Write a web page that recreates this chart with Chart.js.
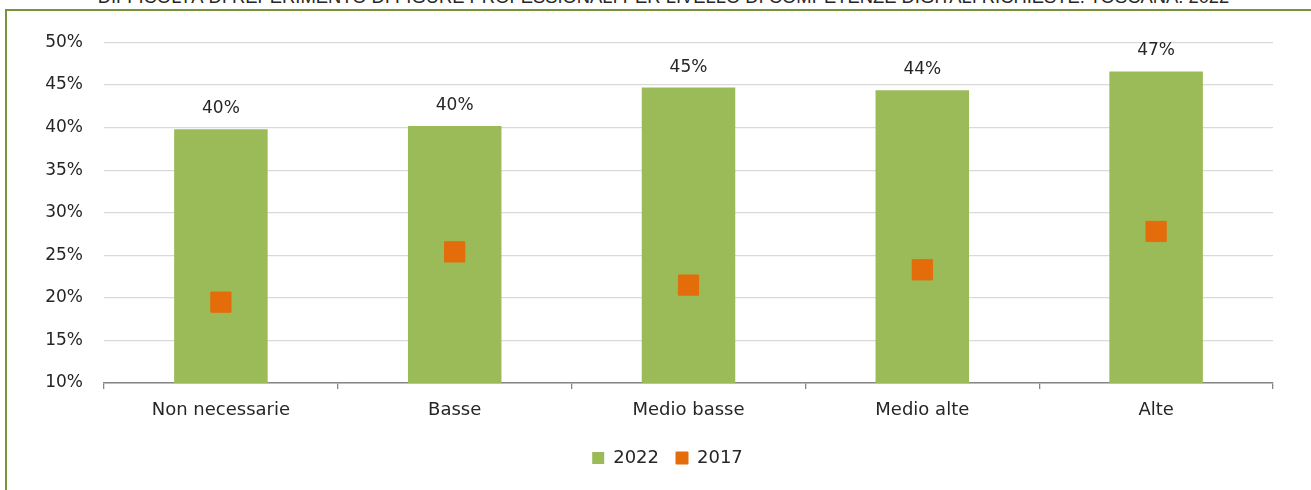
<!DOCTYPE html>
<html>
<head>
<meta charset="utf-8">
<script src="https://cdn.jsdelivr.net/npm/chart.js@4/dist/chart.umd.min.js"></script>
<style>
  html, body { margin: 0; padding: 0; background: #fff; overflow: hidden; }
  #wrap { position: relative; width: 1311px; height: 490px; overflow: hidden; }
  #frame {
    position: absolute; left: 5px; top: 9px; width: 1400px; height: 600px;
    border-left: 2.5px solid #77933C; border-top: 2.5px solid #77933C;
  }
  #title {
    position: absolute; left: 0; width: 1311px; text-align: center;
    font-family: "Liberation Sans", Arial, sans-serif; color: #262626;
    line-height: 1; white-space: nowrap;
  }
  canvas { position: absolute; left: 0; top: 0; }
</style>
</head>
<body>
<div id="wrap">
  <div id="frame"></div>
  <div id="title">DIFFICOLTÀ DI REPERIMENTO DI FIGURE PROFESSIONALI PER LIVELLO DI COMPETENZE DIGITALI RICHIESTE. TOSCANA. 2022</div>
  <canvas id="chart" width="1311" height="490"></canvas>
</div>
<script>
// Dati
const categories = ['Non necessarie', 'Basse', 'Medio basse', 'Medio alte', 'Alte'];
const values2022 = [39.8, 40.2, 44.7, 44.4, 46.6];
const values2017 = [19.5, 25.4, 21.5, 23.3, 27.8];
const yTicks = [10, 15, 20, 25, 30, 35, 40, 45, 50];

// Titolo tagliato in alto, come nell'originale
const title = document.getElementById('title');
const ctxMeasure = document.createElement('canvas').getContext('2d');
ctxMeasure.font = '20px "Liberation Sans"';
const fs = 20 * 1133 / ctxMeasure.measureText(title.textContent).width;
title.style.fontSize = fs + 'px';
title.style.left = (663.5 - 655.5) + 'px';
title.style.top = (3.5 - 0.8465 * fs) + 'px';

const valueLabels = {
    id: 'valueLabels',
    afterDatasetsDraw(chart) {
        const ctx = chart.ctx;
        const meta = chart.getDatasetMeta(0);
        ctx.save();
        ctx.font = '17px "DejaVu Sans"';
        ctx.fillStyle = '#262626';
        ctx.textAlign = 'center';
        ctx.textBaseline = 'alphabetic';
        meta.data.forEach((bar, i) => {
            ctx.fillText(Math.round(values2022[i]) + '%', bar.x, bar.y - 16);
        });
        ctx.restore();
    }
};

// legenda centrata sull'area del grafico come nell'originale
const legendShift = {
    id: 'legendShift',
    afterLayout(chart) {
        chart.legend.left += 31;
        chart.legend.right += 31;
    }
};

new Chart(document.getElementById('chart'), {
    type: 'bar',
    data: {
        labels: categories,
        datasets: [{
            label: '2022',
            data: values2022,
            backgroundColor: '#9BBB59',
            barPercentage: 0.4,
            categoryPercentage: 1,
            order: 1
        }, {
            label: '2017',
            type: 'line',
            data: values2017,
            showLine: false,
            pointStyle: 'rect',
            pointRadius: 14.3,
            pointHoverRadius: 14.3,
            backgroundColor: '#E46C0A',
            borderColor: '#E46C0A',
            borderWidth: 1,
            order: 0
        }]
    },
    options: {
        responsive: false,
        animation: false,
        layout: { padding: { left: 0, right: 38, top: 42.5, bottom: 13 } },
        plugins: {
            tooltip: { enabled: false },
            legend: {
                position: 'bottom',
                labels: {
                    sort: (a, b) => a.datasetIndex - b.datasetIndex,
                    boxWidth: 12,
                    boxHeight: 12,
                    padding: 17,
                    color: '#262626',
                    font: { family: 'DejaVu Sans', size: 18 }
                }
            }
        },
        scales: {
            x: {
                grid: {
                    offset: true,
                    drawOnChartArea: false,
                    tickLength: 6,
                    color: '#868686',
                    lineWidth: 1.3
                },
                border: { color: '#868686', width: 1.5 },
                ticks: {
                    padding: 11,
                    color: '#262626',
                    font: { family: 'DejaVu Sans', size: 18 }
                },
                afterFit: scale => { scale.height = 49; }
            },
            y: {
                min: 10,
                max: 50,
                afterBuildTicks: scale => { scale.ticks = yTicks.map(v => ({ value: v })); },
                grid: { color: '#D9D9D9', lineWidth: 1.3, drawTicks: false },
                border: { display: false },
                ticks: {
                    padding: 21,
                    color: '#262626',
                    font: { family: 'DejaVu Sans', size: 17 },
                    callback: v => v + '%'
                },
                afterFit: scale => { scale.width = 104; }
            }
        }
    },
    plugins: [valueLabels, legendShift]
});
</script>
</body>
</html>
